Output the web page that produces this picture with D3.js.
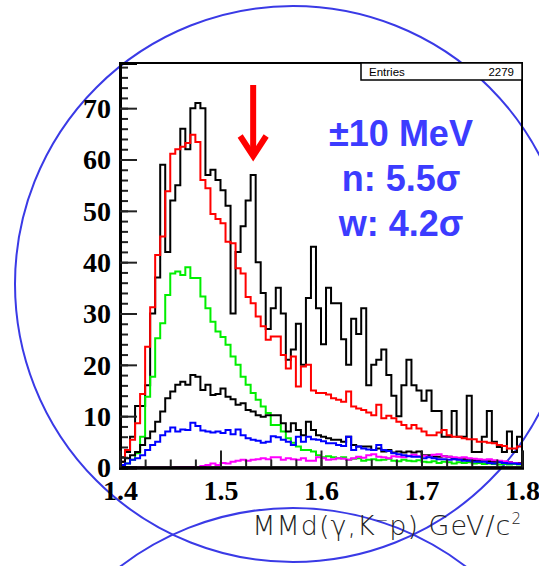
<!DOCTYPE html>
<html>
<head>
<meta charset="utf-8">
<script src="https://cdn.jsdelivr.net/npm/d3@7"></script>
<style>
    body { margin: 0; background: #fff; }
    svg { display: block; }
</style>
</head>
<body>
<svg id="graph" width="539" height="566"></svg>
<script>
// Histogram binning: 80 bins of 5 MeV between 1.4 and 1.8 GeV
var xMin = 1.4, xMax = 1.8, binWidth = 0.005;

// Tick labels:
var xTickLabels = [1.4, 1.5, 1.6, 1.7, 1.8];
var yTickLabels = [0, 10, 20, 30, 40, 50, 60, 70];

// Series (counts per bin):
var dataMain = [2, 3, 6, 12, 12, 16, 30, 37, 59, 42, 52, 55, 66, 62, 70, 71, 70, 57, 58, 56,
                54, 51, 30, 42, 47, 52, 57, 40, 34, 27, 31, 35, 30, 21, 23, 28, 20, 33, 43, 31,
                24, 35, 32, 32, 25, 20, 29, 26, 31, 16, 20, 21, 23, 18, 14, 10, 16, 21, 16, 15,
                13, 15, 11, 11, 6, 6, 11, 6, 6, 14, 3, 3, 6, 11, 5, 4, 3, 7, 3, 6];
var fitTotal = [1.1, 3.4, 5.4, 8.6, 14.3, 23.5, 31.2, 41.4, 45, 53.8, 61.1, 62, 62.5, 63.2, 64.8, 63.4, 56, 54.4, 49.4, 48.4,
                47.6, 44, 43.7, 38.8, 37.8, 33.2, 32, 29.4, 27.5, 24.9, 25.5, 25.5, 21.9, 19.3, 21.6, 15.8, 19.7, 20, 15, 14.5,
                14.5, 14.2, 13.5, 13.2, 12.8, 14.8, 11.9, 11.5, 11.2, 10.7, 10.2, 12.2, 9.6, 10.1, 9.6, 8.9, 8.3, 7.6, 8.3, 7.6,
                7, 6.3, 6.3, 6.8, 7.3, 6.3, 6, 6, 5.7, 5.5, 5.5, 5, 5, 4.8, 4.7, 4.4, 4.2, 3.7, 3.7, 4.1];
var fitGreen = [0.5, 0.8, 1.5, 2.8, 6, 13.8, 17.7, 25.2, 28.1, 33.6, 37.8, 38.2, 37.5, 39, 36.9, 36.9, 33.3, 31, 28.4, 26.5,
                25.4, 23.9, 21.6, 20, 17.7, 16.1, 14.5, 13.2, 11.9, 10.6, 8.3, 8.3, 7, 5.7, 4.8, 4.1, 3.4, 3.4, 3.1, 2.4,
                2.0, 2.2, 2.0, 1.8, 2.0, 1.5, 1.7, 1.8, 1.3, 1.5, 1.6, 1.4, 1.5, 1.7, 1.3, 1.2, 1.5, 1.3, 1.2, 1.4,
                1.1, 1.0, 1.2, 0.9, 1.1, 1.0, 0.8, 1.0, 0.9, 1.0, 0.8, 0.9, 0.7, 0.8, 0.7, 0.6, 0.7, 0.6, 0.7, 0.6];
var fitBlack = [1.1, 1.8, 2.4, 3, 4.4, 5.7, 7, 8.9, 10.9, 13.5, 14.8, 16.1, 16.7, 16.1, 18, 17.7, 15.1, 16.1, 14.1, 14.3,
                15.4, 13.8, 13.3, 12.2, 12.5, 11.2, 10.9, 10.2, 9.9, 10.2, 10.2, 10.2, 8.6, 7, 8.6, 7.3, 6.3, 8.9, 7.3, 6.3,
                6, 5.7, 5.4, 5.4, 5.0, 6.0, 4.4, 4.1, 4.1, 4.1, 3.4, 3.7, 3.1, 3.4, 2.9, 3.1, 2.9, 3.1, 2.9, 3.1,
                2.4, 2.4, 2.1, 2.1, 2.2, 2.1, 1.8, 1.6, 1.6, 1.4, 1.4, 1.3, 1.2, 1.2, 1.1, 1.1, 1.0, 1.0, 0.9, 0.9];
var fitBlue = [0.5, 0.8, 1.5, 1.8, 2.4, 3.4, 4.4, 5, 6.3, 7, 7.8, 7, 7.4, 7.3, 8.7, 8.1, 7.2, 7, 6.8, 7,
               6.7, 7.3, 6.5, 7.4, 6.3, 5.7, 5.4, 5.2, 4.8, 5, 6.1, 5.9, 5.4, 5, 4.4, 6, 5, 6, 5.5, 5.4,
               5.1, 4.7, 4.7, 4.4, 4.2, 6, 3.4, 4.1, 3.7, 3.5, 3.4, 4.4, 3.4, 3.2, 2.8, 2.6, 2.4, 2.2, 2.1, 2.1,
               1.8, 2, 1.8, 1.6, 1.6, 1.5, 1.6, 1.5, 1.3, 1.3, 1.1, 1.1, 1.1, 0.9, 0.8, 1, 0.9, 0.8, 0.8, 0.7];
var fitMagenta = [0, 0, 0, 0, 0, 0, 0, 0, 0, 0, 0, 0.05, 0.1, 0.1, 0.1, 0.1, 0.3, 0.5, 0.8, 0.5,
                  0.9, 0.8, 1.1, 1.3, 1.5, 1.3, 1.5, 1.6, 1.8, 1.6, 2.0, 2.0, 1.5, 1.8, 1.6, 1.5, 1.8, 1.3, 1.3, 2.0,
                  1.8, 1.5, 1.6, 1.8, 1.7, 1.5, 1.8, 2.1, 1.9, 2.4, 2.6, 2.1, 2.0, 1.8, 2.2, 2.1, 2.0, 2.3, 2.5, 2.2,
                  2.3, 2.1, 2.5, 2.6, 2.2, 2.1, 2.0, 1.9, 2.0, 1.8, 1.7, 1.6, 1.5, 1.6, 1.4, 1.3, 1.2, 1.0, 0.9, 0.8];

var graph = d3.select('#graph');

// Scales:
var xScale = d3.scaleLinear().domain([xMin, xMax]).range([120, 522]);
var yScale = d3.scaleLinear().domain([0, 78.8]).range([467.5, 63]);

// Decorations: the hand drawn circles
graph.append('circle').attr('cx', 293).attr('cy', 284).attr('r', 278)
     .attr('fill', 'none').attr('stroke', '#3a3ae6').attr('stroke-width', 2);
graph.append('circle').attr('cx', 293).attr('cy', 792).attr('r', 284)
     .attr('fill', 'none').attr('stroke', '#3a3ae6').attr('stroke-width', 2);

// Histograms (step lines, closed down to zero at both ends):
var stepLine = d3.line().x((d) => xScale(d[0])).y((d) => yScale(d[1])).curve(d3.curveStepAfter);
var histPoints = function(values) {
    var pts = [[xMin, 0]];
    values.forEach((v, i) => pts.push([xMin + i * binWidth, v]));
    pts.push([xMax, values[values.length - 1]]);
    pts.push([xMax, 0]);
    return pts;
};

var series = [
    {values: dataMain,   color: '#000000'},
    {values: fitTotal,   color: '#ff0000'},
    {values: fitGreen,   color: '#00ee00'},
    {values: fitBlack,   color: '#000000'},
    {values: fitMagenta, color: '#ff00ff'},
    {values: fitBlue,    color: '#0000ff'},
];
graph.append('g').classed('hists', true)
     .selectAll('path').data(series).enter().append('path')
     .attr('d', (d) => stepLine(histPoints(d.values)))
     .attr('fill', 'none')
     .attr('stroke', (d) => d.color)
     .attr('stroke-width', 2);

// Frame:
graph.append('rect').attr('x', 120).attr('y', 63).attr('width', 402).attr('height', 404.5)
     .attr('fill', 'none').attr('stroke', '#000').attr('stroke-width', 2);

// Ticks (pointing inside the frame):
var yMinor = d3.range(0, 79, 2);
var xMinor = d3.range(0, 17).map((i) => xMin + i * 0.025);
var tickAxis = function(axis, values, size) {
    return axis.tickValues(values).tickSize(size).tickFormat('');
};
graph.append('g').attr('transform', 'translate(120,0)')
     .call(tickAxis(d3.axisRight(yScale), yMinor, 8));
graph.append('g').attr('transform', 'translate(120,0)')
     .call(tickAxis(d3.axisRight(yScale), yTickLabels, 17));
graph.append('g').attr('transform', 'translate(0,467.5)')
     .call(tickAxis(d3.axisTop(xScale), xMinor, 8));
graph.append('g').attr('transform', 'translate(0,467.5)')
     .call(tickAxis(d3.axisTop(xScale), xTickLabels, 17));
graph.selectAll('.tick line').attr('stroke', '#222').attr('stroke-width', 2);
graph.selectAll('.domain').attr('stroke', '#000').attr('stroke-width', 3);

// Tick labels:
var yAxis = graph.append('g').attr('transform', 'translate(120,0)')
                 .call(d3.axisLeft(yScale).tickValues(yTickLabels).tickSize(0).tickPadding(9));
var xAxis = graph.append('g').attr('transform', 'translate(0,467.5)')
                 .call(d3.axisBottom(xScale).tickValues(xTickLabels).tickSize(0).tickPadding(0)
                       .tickFormat(d3.format('.1f')));
yAxis.select('.domain').remove();
xAxis.select('.domain').remove();
graph.selectAll('g text').filter(function() { return this.closest('.tick'); })
     .attr('font-family', '"Liberation Serif", "Times New Roman", serif')
     .attr('font-weight', 'bold').attr('font-size', 28).attr('fill', '#000');
yAxis.selectAll('text').attr('dy', '0.33em');
xAxis.selectAll('text').attr('y', 32).attr('dy', 0);

// X label:
var xLabel = graph.append('text').attr('x', 522).attr('y', 535)
                  .attr('text-anchor', 'end')
                  .attr('font-family', '"DejaVu Sans", "Liberation Sans", sans-serif')
                  .attr('font-weight', 200).attr('font-size', 27)
                  .attr('letter-spacing', 1).attr('fill', '#222');
xLabel.append('tspan').text('MMd(\u03b3,K');
xLabel.append('tspan').attr('font-size', 15).attr('baseline-shift', '10').text('\u2212');
xLabel.append('tspan').text('p) GeV/c');
xLabel.append('tspan').attr('font-size', 15).attr('baseline-shift', '11').text('2');

// Stats box:
graph.append('rect').attr('x', 361).attr('y', 63).attr('width', 161).attr('height', 17)
     .attr('fill', '#fff').attr('stroke', '#000').attr('stroke-width', 1.5);
graph.append('text').attr('x', 369).attr('y', 76)
     .attr('font-family', '"Liberation Sans", Arial, sans-serif').attr('font-size', 11.5)
     .text('Entries');
graph.append('text').attr('x', 514).attr('y', 76).attr('text-anchor', 'end')
     .attr('font-family', '"Liberation Sans", Arial, sans-serif').attr('font-size', 11.5)
     .text('2279');

// Annotation:
var note = graph.append('g')
                .attr('font-family', '"Liberation Sans", Arial, sans-serif')
                .attr('font-weight', 'bold').attr('font-size', 36)
                .attr('fill', '#3c3cff').attr('text-anchor', 'middle');
note.append('text').attr('x', 401).attr('y', 146).text('\u00b110 MeV');
note.append('text').attr('x', 401).attr('y', 191).text('n: 5.5\u03c3');
note.append('text').attr('x', 401).attr('y', 236).text('w: 4.2\u03c3');

// Red arrow on the peak:
var arrow = graph.append('g').attr('stroke', '#ff0000').attr('fill', 'none').attr('stroke-width', 6);
arrow.append('line').attr('x1', xScale(1.5325)).attr('x2', xScale(1.5325))
     .attr('y1', 85).attr('y2', 155);
arrow.append('path')
     .attr('d', 'M' + (xScale(1.5325) - 13) + ',136 L' + xScale(1.5325) + ',156 L' + (xScale(1.5325) + 13) + ',136');
</script>
</body>
</html>
